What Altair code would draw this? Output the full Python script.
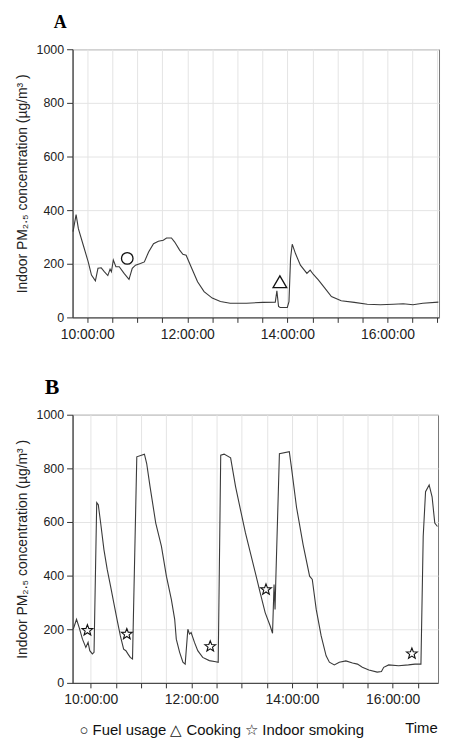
import math
import pandas as pd
import altair as alt

# ---------------- data ----------------
A_TIMES = ["09:43:00", "09:46:40", "09:49:24", "09:55:18", "10:01:12", "10:05:06", "10:09:48",
           "10:12:54", "10:16:48", "10:20:42", "10:24:42", "10:27:24", "10:29:00", "10:31:18",
           "10:34:24", "10:38:24", "10:44:12", "10:50:06", "10:54:00", "10:57:54", "11:03:48",
           "11:08:30", "11:13:36", "11:19:30", "11:25:18", "11:31:12", "11:35:06", "11:41:00",
           "11:44:54", "11:50:48", "11:54:42", "11:58:36", "12:04:30", "12:12:18", "12:20:06",
           "12:29:54", "12:39:42", "12:51:24", "13:11:00", "13:30:36", "13:45:30", "13:47:24",
           "13:49:24", "13:51:18", "13:59:54", "14:01:54", "14:03:48", "14:05:48", "14:09:42",
           "14:15:36", "14:23:24", "14:27:18", "14:31:12", "14:37:06", "14:44:54", "14:52:48",
           "15:04:30", "15:20:12", "15:35:48", "15:51:30", "16:07:06", "16:18:54", "16:30:36",
           "16:42:24", "17:01:00"]
A_VALUES = [320, 383, 331, 269, 207, 158, 136,
            183, 185, 170, 156, 180, 170, 214,
            189, 189, 164, 142, 183, 195, 201,
            207, 244, 275, 284, 288, 296, 296,
            281, 251, 235, 232, 189, 133, 96,
            72, 59, 53, 53, 56, 57, 99,
            41, 37, 37, 59, 220, 273, 238,
            195, 164, 176, 160, 140, 109, 78,
            62, 56, 49, 47, 49, 51, 47,
            53, 57]

B_TIMES = ["09:39:06", "09:43:00", "09:46:12", "09:50:06", "09:54:06", "09:56:48", "09:58:48",
           "10:01:54", "10:03:54", "10:07:06", "10:09:00", "10:11:48", "10:15:42", "10:19:36",
           "10:23:36", "10:27:24", "10:31:18", "10:35:18", "10:39:12", "10:41:54", "10:44:18",
           "10:47:06", "10:49:48", "10:54:54", "11:04:00", "11:06:42", "11:10:42", "11:17:30",
           "11:24:18", "11:30:12", "11:36:06", "11:40:06", "11:42:00", "11:46:00", "11:49:54",
           "11:52:36", "11:55:48", "11:57:48", "11:59:42", "12:03:42", "12:07:36", "12:13:30",
           "12:21:24", "12:29:06", "12:32:00", "12:35:00", "12:39:00", "12:46:48", "12:52:42",
           "12:58:36", "13:04:30", "13:10:24", "13:16:18", "13:22:06", "13:28:00", "13:33:54",
           "13:36:48", "13:38:36", "13:39:48", "13:40:36", "13:45:00", "13:56:48", "13:59:30",
           "14:05:24", "14:13:18", "14:21:00", "14:24:12", "14:28:54", "14:34:48", "14:40:42",
           "14:44:36", "14:50:30", "14:56:24", "15:04:18", "15:12:12", "15:18:06", "15:23:54",
           "15:31:42", "15:41:36", "15:46:42", "15:49:24", "15:55:18", "16:07:06", "16:18:54",
           "16:26:42", "16:33:48", "16:36:30", "16:39:18", "16:43:36", "16:47:06", "16:50:18",
           "16:53:30"]
B_VALUES = [200, 237, 206, 163, 132, 151, 120,
            108, 114, 672, 664, 596, 497, 423,
            361, 299, 237, 175, 126, 120, 108,
            95, 89, 843, 853, 818, 732, 596,
            509, 398, 311, 237, 163, 114, 77,
            70, 200, 182, 188, 151, 120, 95,
            83, 79, 77, 849, 853, 839, 732,
            645, 559, 485, 410, 336, 262, 213,
            185, 367, 274, 373, 855, 862, 800,
            655, 515, 398, 386, 274, 175, 101,
            77, 67, 77, 82, 74, 70, 58,
            48, 40, 42, 58, 67, 64, 67,
            70, 70, 546, 713, 738, 694, 596,
            583]

A_FUEL_TIME = ["10:48:00"]
A_FUEL_VALUE = [220]
A_COOK_TIME = ["13:51:00"]
A_COOK_VALUE = [133]
B_SMOKE_TIMES = ["09:56:00", "10:43:00", "12:22:30", "13:29:00", "16:23:00"]
B_SMOKE_VALUES = [198, 184, 138, 350, 111]

Y_TICKS = [0, 200, 400, 600, 800, 1000]
Y_TITLE = "Indoor PM\u2082.\u2085 concentration (\u00b5g/m\u00b3 )"
LEGEND_TEXT = "\u25cb  Fuel usage \u25b3 Cooking \u2606  Indoor smoking"
TIME_TEXT = "Time"


def to_hours(s):
    h, m, sec = (int(p) for p in s.split(":"))
    return h + m / 60 + sec / 3600


def frame(times, values):
    return pd.DataFrame({"h": [to_hours(t) for t in times], "v": values})


# star symbol path (unit box)
pts = []
for k in range(10):
    r = 1.0 if k % 2 == 0 else 0.42
    a = math.radians(-90 + 36 * k)
    pts.append(f"{r * math.cos(a):.3f},{r * math.sin(a) + 0.1:.3f}")
STAR = "M" + " L".join(pts) + " Z"

LINE_COLOR = "#3a3a3a"
FONT = "Liberation Sans"
label_expr = "datum.value % 2 == 0 ? datum.value + ':00:00' : ''"


def base_axes(domain, tick_end):
    xvals = [10 + 0.5 * k for k in range(int((tick_end - 10) * 2) + 1)]
    x = alt.X("h:Q", scale=alt.Scale(domain=domain, nice=False, zero=False),
              axis=alt.Axis(values=xvals, labelExpr=label_expr, title=None))
    y = alt.Y("v:Q", scale=alt.Scale(domain=[0, 1000], nice=False),
              axis=alt.Axis(values=Y_TICKS, title=Y_TITLE, format="d"))
    return x, y


# ---------------- panel A ----------------
xa, ya = base_axes([9.707, 17.03], 17)
lineA = alt.Chart(frame(A_TIMES, A_VALUES)).mark_line(
    color=LINE_COLOR, strokeWidth=1.1).encode(x=xa, y=ya)
fuel = alt.Chart(frame(A_FUEL_TIME, A_FUEL_VALUE)).mark_point(
    shape="circle", size=135, filled=False, stroke="#111", strokeWidth=1.3, opacity=1
).encode(x=xa, y=ya)
cook = alt.Chart(frame(A_COOK_TIME, A_COOK_VALUE)).mark_point(
    shape="triangle-up", size=190, filled=False, stroke="#111", strokeWidth=1.3, opacity=1
).encode(x=xa, y=ya)
panelA = alt.layer(lineA, fuel, cook).properties(
    width=369, height=270,
    title=alt.TitleParams("A", anchor="start", frame="group", font="Liberation Serif",
                          fontSize=18, fontWeight="bold", dx=-19, offset=11, color="#000"))

# ---------------- panel B ----------------
xb, yb = base_axes([9.638, 16.903], 16.5)
lineB = alt.Chart(frame(B_TIMES, B_VALUES)).mark_line(
    color=LINE_COLOR, strokeWidth=1.1).encode(x=xb, y=yb)
stars = alt.Chart(frame(B_SMOKE_TIMES, B_SMOKE_VALUES)).mark_point(
    shape=STAR, size=130, filled=False, stroke="#111", strokeWidth=1.1, opacity=1
).encode(x=xb, y=yb)
legend = alt.Chart(pd.DataFrame({"t": [LEGEND_TEXT]})).mark_text(
    align="left", baseline="middle", font=FONT, fontSize=15, color="#111"
).encode(text="t:N", x=alt.value(7), y=alt.value(317))
timet = alt.Chart(pd.DataFrame({"t": [TIME_TEXT]})).mark_text(
    align="left", baseline="middle", font=FONT, fontSize=15, color="#111"
).encode(text="t:N", x=alt.value(335), y=alt.value(315))
panelB = alt.layer(lineB, stars, legend, timet).properties(
    width=368, height=270,
    title=alt.TitleParams("B", anchor="start", frame="group", font="Liberation Serif",
                          fontSize=22, fontWeight="bold", dx=-28, offset=10, color="#000"))

chart = alt.vconcat(panelA, panelB, spacing=33).properties(
    padding={"left": 6, "top": 3, "right": 0, "bottom": 0}
).configure_view(stroke="#777", strokeWidth=1).configure_axis(
    labelFont=FONT, titleFont=FONT, domainColor="#333", tickColor="#333",
    gridColor="#e4e4e4", gridWidth=1, labelColor="#222", titleColor="#222",
    titleFontWeight="normal"
).configure_axisX(labelFontSize=14, tickSize=5, labelPadding=5).configure_axisY(
    labelFontSize=12.5, tickSize=6, labelPadding=3, titleFontSize=14, titlePadding=7
)

chart.save("out.html", embed_options={"renderer": "svg", "actions": False})
